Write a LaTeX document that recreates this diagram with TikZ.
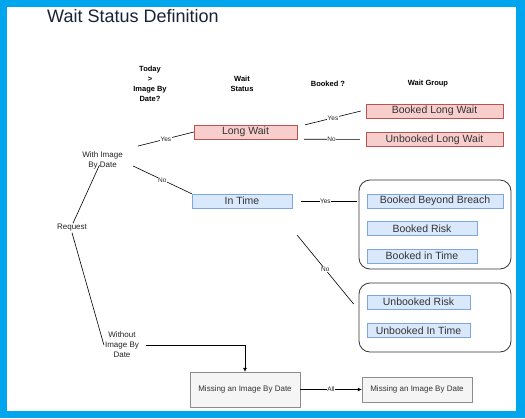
\documentclass[tikz,border=0pt]{standalone}
\usepackage{fontspec}
\setmainfont{Liberation Sans}
\usetikzlibrary{positioning, arrows.meta}
\definecolor{framecol}{HTML}{00A6ED}
\definecolor{titlecol}{HTML}{1A2238}
\definecolor{redfill}{HTML}{F8CECC}
\definecolor{redline}{HTML}{B85450}
\definecolor{bluefill}{HTML}{DAE8FC}
\definecolor{blueline}{HTML}{7EA6E0}
\definecolor{greyfill}{HTML}{F5F5F5}
\definecolor{greyline}{HTML}{8C8C8C}
\definecolor{groupline}{HTML}{333333}
\definecolor{boxtext}{HTML}{333333}
\definecolor{plaintext}{HTML}{222222}

\begin{document}
\begin{tikzpicture}[x=1pt, y=1pt, node distance=14pt, >={Latex[length=4pt,width=4pt]},
    redbox/.style={draw=redline, fill=redfill, text=boxtext, font=\fontsize{10.5}{12}\selectfont, minimum height=14pt, inner sep=0pt},
    bluebox/.style={draw=blueline, fill=bluefill, text=boxtext, font=\fontsize{10.5}{12}\selectfont, minimum height=14pt, inner sep=0pt},
    greybox/.style={draw=greyline, fill=greyfill, text=boxtext, font=\fontsize{8}{10}\selectfont, minimum width=110pt, inner sep=0pt},
    group/.style={draw=groupline, line width=0.8pt, rounded corners=11pt, minimum width=152pt},
    head/.style={font=\fontsize{7.5}{10}\selectfont\bfseries, align=center, inner sep=1pt},
    plain/.style={font=\fontsize{8}{10}\selectfont, text=plaintext, align=center, inner sep=1pt},
    lbl/.style={font=\fontsize{6.5}{7}\selectfont, fill=white, inner sep=0.6pt, text=plaintext},
    edge/.style={line width=0.6pt}]
    \useasboundingbox (0,0) rectangle (525,-418);
    \fill[framecol] (0,0) rectangle (525,-418);
    \fill[white] (7,-7) rectangle (516,-411);

    \node[anchor=west, inner sep=0pt, font=\fontsize{18}{20}\selectfont, text=titlecol] (title) at (47,-16.5) {Wait Status Definition};

    % column heads
    \node[head] (hToday) at (150,-84) {Today\\>\\Image By\\Date?};
    \node[head] (hStatus) at (242,-84) {Wait\\Status};
    \node[head] (hBooked) at (328,-84) {Booked ?};
    \node[head] (hGroup) at (428,-84) {Wait Group};

    \node[plain] (request) at (72,-228) {Request};
    \node[plain] (withImg) at (102.5,-160) {With Image\\By Date};
    \node[plain] (withoutImg) at (122,-345) {Without\\Image By\\Date};

    \node[redbox, minimum width=103pt] (longWait) at (245.5,-132) {Long Wait};
    \node[redbox, minimum width=137pt] (bookedLong) at (434.5,-111) {Booked Long Wait};
    \node[redbox, minimum width=137pt, below=14pt of bookedLong] (unbookedLong) {Unbooked Long Wait};

    \node[bluebox, minimum width=100pt] (inTime) at (242,-201) {In Time};

    \node[group, minimum height=89pt] (grpBooked) at (435,-224.5) {};
    \node[bluebox, minimum width=136pt] (beyond) at (435,-201) {Booked Beyond Breach};
    \node[bluebox, minimum width=110pt, below=13pt of beyond.south west, anchor=north west] (bookedRisk) {Booked Risk};
    \node[bluebox, minimum width=110pt, below=13pt of bookedRisk] (bookedTime) {Booked in Time};

    \node[group, minimum height=69pt] (grpUnbooked) at (435,-317.5) {};
    \node[bluebox, minimum width=103pt] (unbookedRisk) at (418.5,-302) {Unbooked Risk};
    \node[bluebox, minimum width=103pt, below=14pt of unbookedRisk] (unbookedTime) {Unbooked In Time};

    \node[greybox, minimum height=35pt] (missing) at (245,-389.5) {Missing an Image By Date};
    \node[greybox, minimum height=25pt] (missingGrp) at (417,-389.5) {Missing an Image By Date};

    \draw[edge] ([xshift=1pt]request.north) -- ([xshift=-3pt,yshift=5pt]withImg.south);
    \draw[edge] (request.south) -- (withoutImg.west);
    \draw[edge] ([xshift=14pt,yshift=4pt]withImg.north east) -- node[lbl]{Yes} (longWait.west);
    \draw[edge] ([xshift=9pt,yshift=4pt]withImg.south east) -- node[lbl]{No} (inTime.north west);
    \draw[edge] ([xshift=8pt]longWait.north east) -- node[lbl]{Yes} ([xshift=-5pt]bookedLong.west);
    \draw[edge, shorten <=7pt, shorten >=6pt] (longWait.south east) -- node[lbl]{No} (unbookedLong.west);
    \draw[edge, shorten <=9pt, shorten >=2pt] (inTime.east) -- node[lbl]{Yes} (inTime.east -| grpBooked.west);
    \draw[edge] ([xshift=5pt,yshift=-27pt]inTime.south east) -- node[lbl]{No} ([xshift=-5pt,yshift=13.5pt]grpUnbooked.west);
    \draw[edge, ->] ([xshift=6pt]withoutImg.east) -| (missing.north);
    \draw[edge, ->] (missing.east) -- node[lbl]{All} (missingGrp.west);
\end{tikzpicture}
\end{document}
